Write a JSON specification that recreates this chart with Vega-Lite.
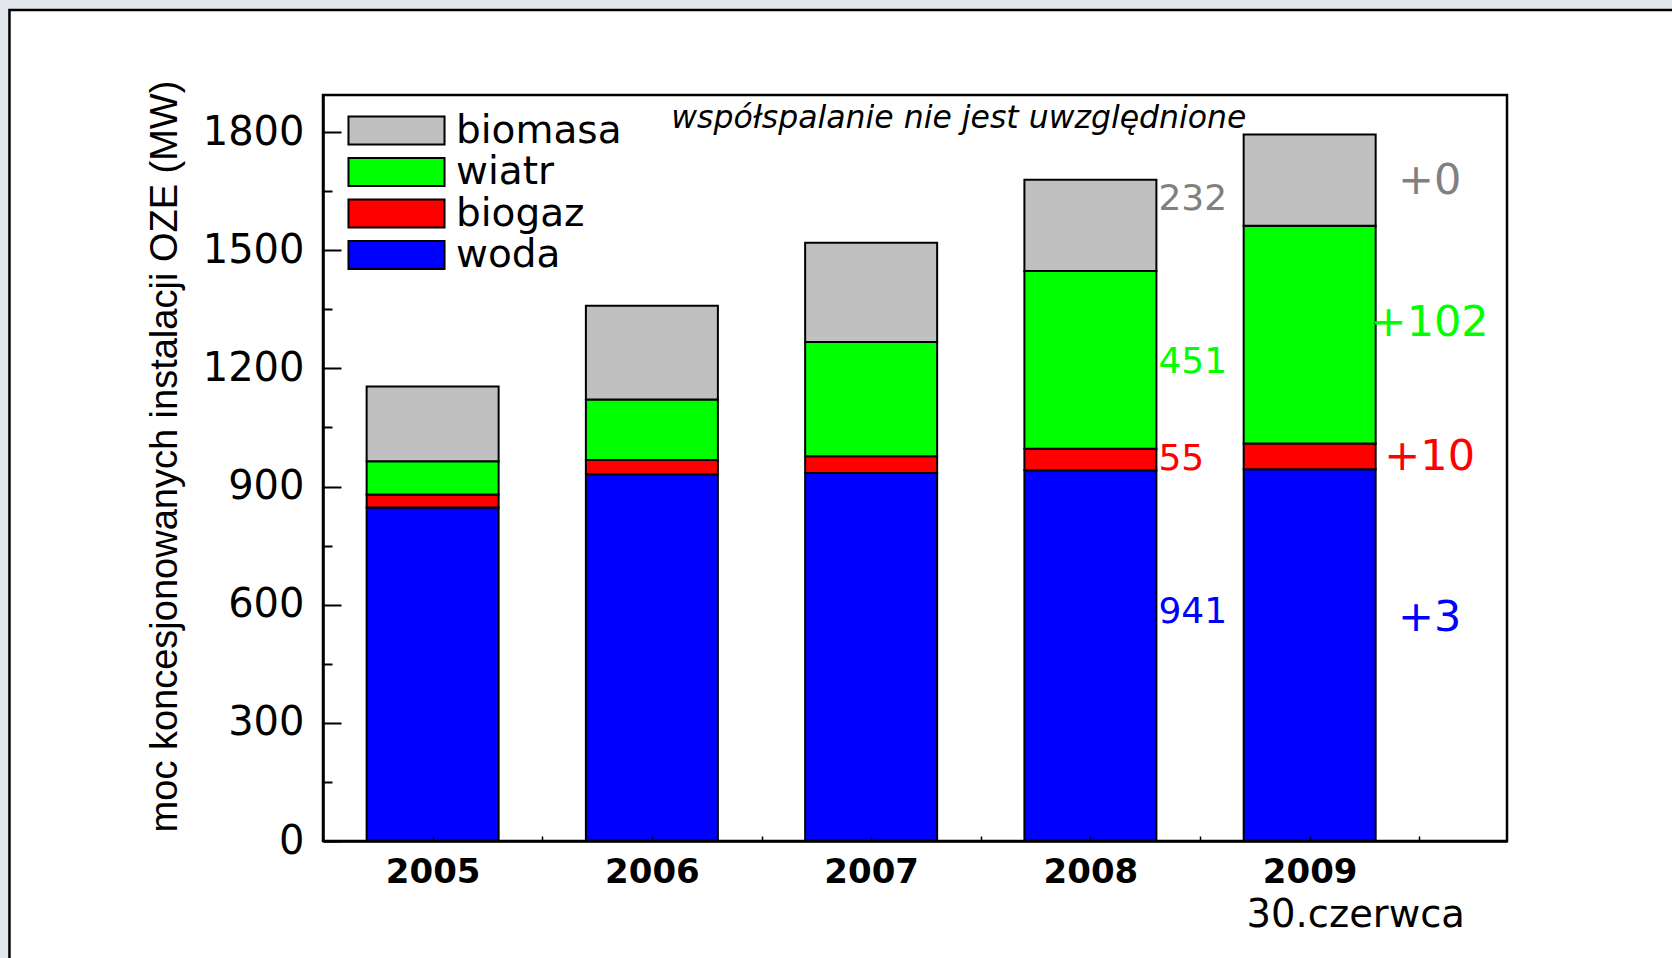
{
  "$schema": "https://vega.github.io/schema/vega-lite/v6.json",
  "width": 1184,
  "height": 746,
  "autosize": {"type": "none"},
  "padding": {"left": 323, "top": 95, "right": 165, "bottom": 117},
  "background": "#e4e7ed",
  "config": {"view": {"stroke": null}, "font": "DejaVu Sans"},
  "datasets": {
    "bars": [
      {"year": 2005, "type": "woda", "value": 847},
      {"year": 2005, "type": "biogaz", "value": 33},
      {"year": 2005, "type": "wiatr", "value": 84},
      {"year": 2005, "type": "biomasa", "value": 190},
      {"year": 2006, "type": "woda", "value": 931},
      {"year": 2006, "type": "biogaz", "value": 36},
      {"year": 2006, "type": "wiatr", "value": 154},
      {"year": 2006, "type": "biomasa", "value": 238},
      {"year": 2007, "type": "woda", "value": 934},
      {"year": 2007, "type": "biogaz", "value": 43},
      {"year": 2007, "type": "wiatr", "value": 290},
      {"year": 2007, "type": "biomasa", "value": 252},
      {"year": 2008, "type": "woda", "value": 941},
      {"year": 2008, "type": "biogaz", "value": 55},
      {"year": 2008, "type": "wiatr", "value": 451},
      {"year": 2008, "type": "biomasa", "value": 232},
      {"year": 2009, "type": "woda", "value": 944},
      {"year": 2009, "type": "biogaz", "value": 65},
      {"year": 2009, "type": "wiatr", "value": 553},
      {"year": 2009, "type": "biomasa", "value": 232}
    ],
    "stackorder": [
      {"type": "woda", "rank": 1},
      {"type": "biogaz", "rank": 2},
      {"type": "wiatr", "rank": 3},
      {"type": "biomasa", "rank": 4}
    ],
    "labels2008": [
      {"year": 2008, "type": "biomasa", "label": "232", "pos": 1629},
      {"year": 2008, "type": "wiatr", "label": "451", "pos": 1217},
      {"year": 2008, "type": "biogaz", "label": "55", "pos": 971},
      {"year": 2008, "type": "woda", "label": "941", "pos": 581}
    ],
    "labels2009": [
      {"year": 2009, "type": "biomasa", "label": "+0", "pos": 1675},
      {"year": 2009, "type": "wiatr", "label": "+102", "pos": 1315},
      {"year": 2009, "type": "biogaz", "label": "+10", "pos": 976},
      {"year": 2009, "type": "woda", "label": "+3", "pos": 565}
    ]
  },
  "resolve": {"scale": {"color": "independent"}},
  "layer": [
    {
      "data": {"values": [{}]},
      "mark": {"type": "rect", "fill": "white", "stroke": "black", "strokeWidth": 2.5, "clip": false},
      "encoding": {
        "x": {"datum": 2003.07, "type": "quantitative", "scale": {"domain": [2004.5, 2009.9], "nice": false, "zero": false, "padding": 0}},
        "x2": {"datum": 2013},
        "y": {"datum": 2110, "type": "quantitative", "scale": {"domain": [0, 1894], "nice": false, "padding": 0}},
        "y2": {"datum": -700}
      }
    },
    {
      "data": {"name": "bars"},
      "transform": [
        {"lookup": "type", "from": {"data": {"name": "stackorder"}, "key": "type", "fields": ["rank"]}}
      ],
      "mark": {"type": "bar", "width": 132, "stroke": "black", "strokeWidth": 2},
      "encoding": {
        "x": {
          "field": "year", "type": "quantitative",
          "scale": {"domain": [2004.5, 2009.9], "nice": false, "zero": false, "padding": 0},
          "axis": {
            "values": [2005, 2005.5, 2006, 2006.5, 2007, 2007.5, 2008, 2008.5, 2009, 2009.5],
            "labelExpr": "datum.value % 1 === 0 ? '' + datum.value : ''",
            "labelFont": "DejaVu Sans", "labelFontWeight": "bold", "labelFontSize": 34,
            "labelColor": "black", "labelBaseline": "top",
            "tickSize": -5, "tickColor": "black", "tickWidth": 1.5, "labelPadding": 19,
            "domainColor": "black", "domainWidth": 2.5, "title": null, "grid": false, "zindex": 1
          }
        },
        "y": {
          "field": "value", "type": "quantitative", "stack": "zero",
          "scale": {"domain": [0, 1894], "nice": false, "padding": 0},
          "axis": {
            "values": [0, 150, 300, 450, 600, 750, 900, 1050, 1200, 1350, 1500, 1650, 1800],
            "labelExpr": "datum.value % 300 === 0 ? '' + datum.value : ''",
            "labelFont": "DejaVu Sans", "labelFontSize": 40, "labelColor": "black",
            "tickColor": "black", "tickWidth": 2,
            "tickSize": {"condition": {"test": "datum.value % 300 === 0", "value": -18}, "value": -9},
            "labelPadding": 37,
            "domainColor": "black", "domainWidth": 2.5, "grid": false, "zindex": 1,
            "title": "moc koncesjonowanych instalacji OZE (MW)",
            "titleFont": "Liberation Sans",
            "titleFontSize": 38, "titleFontWeight": "normal", "titleColor": "black",
            "titleX": -158, "titleY": 361, "titleAngle": -90, "titleBaseline": "middle", "titleAlign": "center"
          }
        },
        "order": {"field": "rank", "type": "quantitative"},
        "color": {
          "field": "type", "type": "nominal",
          "scale": {"domain": ["woda", "biogaz", "wiatr", "biomasa"], "range": ["#0000ff", "#ff0000", "#00ff00", "#c0c0c0"]},
          "legend": {
            "orient": "none", "legendX": 54, "legendY": 16, "title": null,
            "values": ["biomasa", "wiatr", "biogaz", "woda"],
            "symbolType": "M-3.43,-1H3.43V1H-3.43Z", "symbolSize": 784,
            "symbolStrokeColor": "black", "symbolStrokeWidth": 2, "symbolOpacity": 1,
            "labelFont": "DejaVu Sans", "labelFontSize": 39, "labelColor": "black", "labelLimit": 0,
            "labelOffset": 40, "rowPadding": 1.5, "padding": 0, "zindex": 1
          }
        }
      }
    },
    {
      "data": {"name": "labels2008"},
      "mark": {"type": "text", "align": "left", "baseline": "middle", "dx": 68, "fontSize": 36, "font": "DejaVu Sans"},
      "encoding": {
        "x": {"field": "year", "type": "quantitative", "scale": {"domain": [2004.5, 2009.9], "nice": false, "zero": false, "padding": 0}},
        "y": {"field": "pos", "type": "quantitative", "scale": {"domain": [0, 1894], "nice": false, "padding": 0}},
        "text": {"field": "label"},
        "color": {"field": "type", "type": "nominal", "scale": {"domain": ["woda", "biogaz", "wiatr", "biomasa"], "range": ["#0000ff", "#ff0000", "#00ff00", "#808080"]}, "legend": null}
      }
    },
    {
      "data": {"name": "labels2009"},
      "mark": {"type": "text", "align": "center", "baseline": "middle", "dx": 120, "fontSize": 43, "font": "DejaVu Sans"},
      "encoding": {
        "x": {"field": "year", "type": "quantitative", "scale": {"domain": [2004.5, 2009.9], "nice": false, "zero": false, "padding": 0}},
        "y": {"field": "pos", "type": "quantitative", "scale": {"domain": [0, 1894], "nice": false, "padding": 0}},
        "text": {"field": "label"},
        "color": {"field": "type", "type": "nominal", "scale": {"domain": ["woda", "biogaz", "wiatr", "biomasa"], "range": ["#0000ff", "#ff0000", "#00ff00", "#808080"]}, "legend": null}
      }
    },
    {
      "data": {"values": [{}]},
      "mark": {"type": "text", "text": "współspalanie nie jest uwzględnione", "font": "DejaVu Sans", "fontStyle": "italic", "fontSize": 31.5, "baseline": "middle", "align": "center", "color": "black"},
      "encoding": {
        "x": {"datum": 2007.4, "type": "quantitative"},
        "y": {"datum": 1832, "type": "quantitative"}
      }
    },
    {
      "data": {"values": [{}]},
      "mark": {"type": "text", "text": "30.czerwca", "font": "DejaVu Sans", "fontSize": 38.5, "baseline": "middle", "align": "center", "color": "black", "clip": false},
      "encoding": {
        "x": {"datum": 2009.21, "type": "quantitative"},
        "y": {"datum": -188, "type": "quantitative"}
      }
    },
    {
      "data": {"values": [{}]},
      "mark": {"type": "rect", "filled": false, "stroke": "black", "strokeWidth": 2.5},
      "encoding": {
        "x": {"datum": 2004.5, "type": "quantitative"},
        "x2": {"datum": 2009.9},
        "y": {"datum": 0, "type": "quantitative"},
        "y2": {"datum": 1894}
      }
    }
  ]
}
